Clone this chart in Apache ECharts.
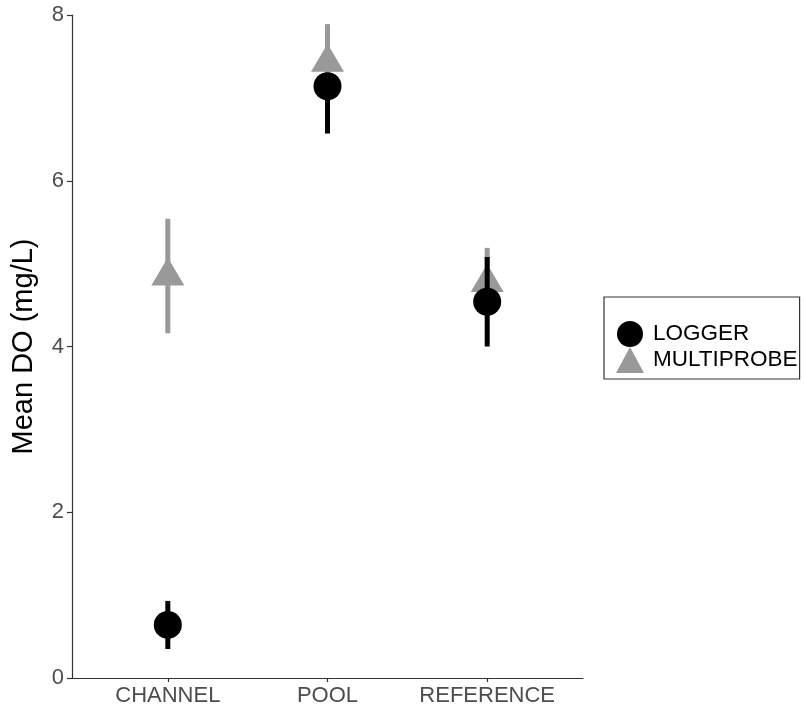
<!DOCTYPE html>
<html>
<head>
<meta charset="utf-8">
<script src="https://cdn.jsdelivr.net/npm/echarts@6/dist/echarts.min.js"></script>
<style>
html,body{margin:0;padding:0;background:#fff;}
#main{width:804px;height:713px;}
</style>
</head>
<body>
<div id="main"></div>
<script>
const categories = ['CHANNEL', 'POOL', 'REFERENCE'];
const yTicks = [0, 2, 4, 6, 8];
const loggerMean = [0.64, 7.14, 4.54];
const loggerLow = [0.35, 6.57, 4.00];
const loggerHigh = [0.93, 7.25, 5.08];
const multiMean = [4.85, 7.43, 4.77];
const multiLow = [4.16, 7.10, 4.45];
const multiHigh = [5.54, 7.89, 5.19];

const FONT = '"Liberation Sans", Arial, sans-serif';
const xPos = categories.map((c, i) => i + 1);

function errData(lo, hi) { return xPos.map((x, i) => [x, lo[i], hi[i]]); }
function ptData(m) { return xPos.map((x, i) => [x, m[i]]); }

function errRender(color) {
  return function (params, api) {
    const p1 = api.coord([api.value(0), api.value(1)]);
    const p2 = api.coord([api.value(0), api.value(2)]);
    return {
      type: 'line',
      shape: { x1: p1[0], y1: p1[1], x2: p2[0], y2: p2[1] },
      style: { stroke: color, lineWidth: 5 }
    };
  };
}

const chart = echarts.init(document.getElementById('main'));
chart.setOption({
  animation: false,
  backgroundColor: '#ffffff',
  grid: { left: 72, right: 221, top: 15, bottom: 35 },
  xAxis: {
    type: 'value', min: 0.4, max: 3.6,
    splitLine: { show: false },
    axisLine: { show: true, onZero: false, lineStyle: { color: '#333333', width: 1.2 } },
    axisTick: { show: true, length: 4, customValues: xPos, lineStyle: { color: '#333333', width: 1.2 } },
    axisLabel: {
      customValues: xPos, margin: 7,
      formatter: v => categories[Math.round(v) - 1] || '',
      fontSize: 22, color: '#4d4d4d', fontFamily: FONT
    }
  },
  yAxis: {
    type: 'value', min: yTicks[0], max: yTicks[yTicks.length - 1], interval: 2,
    splitLine: { show: false },
    axisLine: { show: true, lineStyle: { color: '#333333', width: 1.2 } },
    axisTick: { show: true, length: 5, lineStyle: { color: '#333333', width: 1.2 } },
    axisLabel: { margin: 8, fontSize: 22, color: '#4d4d4d', fontFamily: FONT },
    name: 'Mean DO (mg/L)', nameLocation: 'middle', nameGap: 34,
    nameTextStyle: { fontSize: 29, color: '#000', fontFamily: FONT }
  },
  legend: {
    orient: 'vertical', left: 604, top: 297,
    data: ['LOGGER', 'MULTIPROBE'],
    borderColor: '#333333', borderWidth: 1.2,
    padding: [24, 2, 6, 12],
    itemWidth: 28, itemHeight: 26, itemGap: 0,
    textStyle: { fontSize: 22.5, color: '#000', fontFamily: FONT, padding: [0, 0, 0, 4] }
  },
  series: [
    {
      type: 'custom', name: 'multiErr', renderItem: errRender('#999999'),
      data: errData(multiLow, multiHigh), z: 1, encode: { x: 0, y: [1, 2] }
    },
    {
      type: 'scatter', name: 'MULTIPROBE', data: ptData(multiMean),
      symbol: 'triangle', symbolSize: [33, 28], symbolOffset: [0, -4.6],
      itemStyle: { color: '#999999', opacity: 1 }, z: 2
    },
    {
      type: 'custom', name: 'loggerErr', renderItem: errRender('#000000'),
      data: errData(loggerLow, loggerHigh), z: 3, encode: { x: 0, y: [1, 2] }
    },
    {
      type: 'scatter', name: 'LOGGER', data: ptData(loggerMean),
      symbol: 'circle', symbolSize: 28,
      itemStyle: { color: '#000000', opacity: 1 }, z: 4
    }
  ]
});
</script>
</body>
</html>
